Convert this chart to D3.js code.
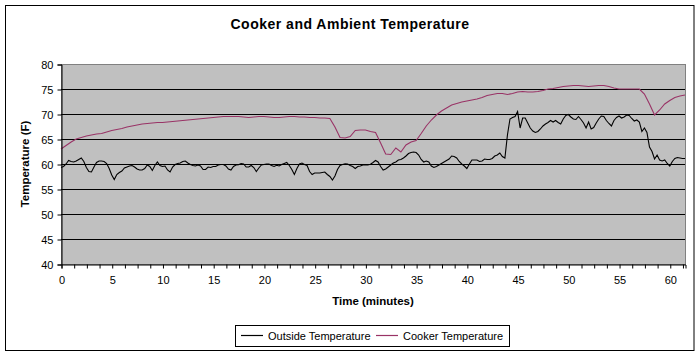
<!DOCTYPE html>
<html>
<head>
<meta charset="utf-8">
<script src="https://cdn.jsdelivr.net/npm/d3@7"></script>
<style>
  html, body { margin: 0; padding: 0; background: #fff; }
  svg { display: block; font-family: "Liberation Sans", Arial, sans-serif; }
</style>
</head>
<body>
<svg id="chart" width="700" height="356"></svg>
<script>
// ---- Data ----
const chartTitle = "Cooker and Ambient Temperature";
const xAxisTitle = "Time (minutes)";
const yAxisTitle = "Temperature (F)";
const seriesNames = ["Outside Temperature", "Cooker Temperature"];

// Outside temperature, one reading every 0.25 minutes starting at 0
const outsideStep = 0.25;
const outsideTemp = [
  59.3,59.5,60.0,60.7,60.5,60.4,60.6,60.9,61.2,60.5,
  59.3,58.5,58.4,59.4,60.3,60.6,60.6,60.5,60.1,59.1,
  57.8,56.9,57.9,58.3,58.6,59.2,59.4,59.6,59.7,59.4,
  59.0,58.8,58.8,59.1,59.8,59.5,58.7,59.7,60.4,59.7,
  59.5,59.6,58.8,58.4,59.4,59.9,60.1,60.2,60.5,60.6,
  60.2,59.9,59.7,59.6,59.8,59.6,58.9,58.9,59.4,59.3,
  59.5,59.5,59.8,59.9,59.9,59.6,59.0,58.8,59.5,59.8,
  59.85,60.1,60.0,59.4,59.4,59.7,59.3,58.5,59.2,59.8,
  59.9,60.0,60.0,59.7,59.5,59.75,59.6,59.9,60.1,60.3,
  59.7,58.9,57.9,59.1,60.0,60.2,59.9,59.7,58.5,57.9,
  58.2,58.2,58.2,58.3,58.4,57.9,57.5,56.8,57.6,58.9,
  59.7,59.9,60.05,60.0,59.7,59.5,59.1,59.5,59.6,59.8,
  59.8,59.8,59.95,60.3,60.7,60.4,59.5,58.8,59.0,59.4,
  59.8,60.2,60.4,60.8,60.9,61.2,61.6,62.1,62.3,62.4,
  62.3,61.8,60.9,60.4,60.6,60.4,59.6,59.3,59.5,59.8,
  60.1,60.4,60.7,61.0,61.6,61.5,61.2,60.5,60.0,59.6,
  59.1,60.0,60.8,60.8,60.8,60.5,60.6,61.0,60.9,60.9,
  61.1,61.6,61.8,62.2,61.5,61.2,65.8,69.0,69.3,69.5,
  70.5,67.2,69.2,69.2,68.2,67.2,66.6,66.3,66.5,67.0,
  67.6,68.0,68.3,68.7,68.4,68.7,68.3,68.0,69.0,69.7,
  69.9,69.4,69.0,68.9,69.5,68.9,68.2,67.2,68.4,67.0,
  67.3,68.2,69.0,69.6,69.5,68.7,68.1,67.6,68.7,69.3,
  69.6,69.2,69.4,69.8,69.7,69.1,68.6,68.8,68.4,66.5,
  67.2,66.3,63.4,62.5,61.0,61.8,60.8,60.6,60.8,60.1,
  59.6,60.5,61.1,61.3,61.2,61.1,61.1
];

// Cooker temperature, one reading every 0.5 minutes starting at 0
const cookerStep = 0.5;
const cookerTemp = [
  63.0,63.7,64.4,65.0,65.3,65.6,65.8,66.0,66.1,66.4,
  66.7,66.9,67.1,67.4,67.6,67.8,68.0,68.1,68.2,68.3,
  68.3,68.4,68.5,68.6,68.7,68.8,68.9,69.0,69.1,69.2,
  69.3,69.4,69.5,69.5,69.5,69.5,69.4,69.3,69.4,69.5,
  69.5,69.4,69.3,69.3,69.4,69.5,69.5,69.4,69.4,69.3,
  69.3,69.2,69.2,69.1,67.4,65.3,65.2,65.5,66.7,66.8,
  66.8,66.5,66.3,64.2,62.0,61.9,63.2,62.4,63.8,64.4,
  64.7,66.1,67.6,68.8,69.8,70.6,71.2,71.8,72.1,72.4,
  72.6,72.8,73.0,73.3,73.7,73.9,74.1,74.1,73.9,74.1,
  74.4,74.5,74.4,74.4,74.5,74.7,75.0,75.1,75.3,75.5,
  75.6,75.7,75.7,75.6,75.5,75.6,75.7,75.7,75.5,75.2,
  75.0,75.0,75.0,75.0,75.0,74.0,72.0,69.8,70.8,72.0,
  72.7,73.3,73.6,73.8
];

const xMax = 61.5;
const xMinorStep = 1.25;
const xLabelStep = 5;
const yTicks = [40, 45, 50, 55, 60, 65, 70, 75, 80];
const yGridValues = [45, 50, 55, 60, 65, 70, 75];

const outsideColor = "#000000";
const cookerColor = "#993366";

// ---- Layout ----
const svg = d3.select("#chart");
const plot = { left: 61, right: 685, top: 64, bottom: 264 };

const x = d3.scaleLinear().domain([0, xMax]).range([plot.left, plot.right]);
const y = d3.scaleLinear().domain([40, 80]).range([plot.bottom, plot.top]);

// Outer frame
svg.append("rect")
  .attr("x", 5.5).attr("y", 5.5)
  .attr("width", 688.5).attr("height", 345)
  .attr("fill", "#fff").attr("stroke", "#000").attr("stroke-width", 1);

// Title
svg.append("text")
  .attr("x", 350).attr("y", 29)
  .attr("text-anchor", "middle")
  .attr("font-size", "14px").attr("font-weight", "bold")
  .attr("letter-spacing", "0.5px")
  .text(chartTitle);

// Plot area
svg.append("rect")
  .attr("x", plot.left + 0.5).attr("y", plot.top + 0.5)
  .attr("width", plot.right - plot.left).attr("height", plot.bottom - plot.top)
  .attr("fill", "#C0C0C0").attr("stroke", "#808080").attr("stroke-width", 1);

// Gridlines
svg.append("g").selectAll("line")
  .data(yGridValues).join("line")
  .attr("x1", plot.left).attr("x2", plot.right)
  .attr("y1", d => Math.round(y(d)) + 0.5).attr("y2", d => Math.round(y(d)) + 0.5)
  .attr("stroke", "#000").attr("stroke-width", 1);

// Lines
const outsidePts = outsideTemp.map((v, i) => [i * outsideStep, v]);
const cookerPts = cookerTemp.map((v, i) => [i * cookerStep, v]);
const lineGen = d3.line().x(d => x(d[0])).y(d => y(d[1]));

svg.append("path")
  .attr("d", lineGen(cookerPts))
  .attr("fill", "none").attr("stroke", cookerColor).attr("stroke-width", 1.1);
svg.append("path")
  .attr("d", lineGen(outsidePts))
  .attr("fill", "none").attr("stroke", outsideColor).attr("stroke-width", 1.1);

// Y axis
const yAxis = d3.axisLeft(y).tickValues(yTicks).tickSize(4).tickPadding(4);
const gy = svg.append("g")
  .attr("transform", `translate(${plot.left + 0.5},0.5)`)
  .call(yAxis);
gy.select(".domain").attr("stroke", "#000");
gy.selectAll(".tick line").attr("stroke", "#000");
gy.selectAll("text").attr("font-size", "11px").attr("fill", "#000")
  .attr("font-family", "Liberation Sans, Arial, sans-serif");

// X axis
const xTickVals = d3.range(0, xMax + 0.001, xMinorStep);
const xAxis = d3.axisBottom(x).tickValues(xTickVals).tickSize(4).tickPadding(8)
  .tickFormat(d => (Math.abs(d % xLabelStep) < 1e-6 ? d3.format("d")(d) : ""));
const gx = svg.append("g")
  .attr("transform", `translate(0.5,${plot.bottom + 0.5})`)
  .call(xAxis);
gx.select(".domain").attr("stroke", "#000");
gx.selectAll(".tick line").attr("stroke", "#000");
gx.selectAll("text").attr("font-size", "11px").attr("fill", "#000")
  .attr("font-family", "Liberation Sans, Arial, sans-serif");

// Axis titles
svg.append("text")
  .attr("x", 373).attr("y", 305)
  .attr("text-anchor", "middle")
  .attr("font-size", "11.5px").attr("font-weight", "bold")
  .text(xAxisTitle);

svg.append("text")
  .attr("transform", `translate(29,164) rotate(-90)`)
  .attr("text-anchor", "middle")
  .attr("font-size", "11.5px").attr("font-weight", "bold")
  .text(yAxisTitle);

// Legend
const legend = svg.append("g");
legend.append("rect")
  .attr("x", 235.5).attr("y", 325.5)
  .attr("width", 274).attr("height", 21)
  .attr("fill", "#fff").attr("stroke", "#000").attr("stroke-width", 1);
const legendItems = [
  { name: seriesNames[0], color: outsideColor, x0: 241 },
  { name: seriesNames[1], color: cookerColor, x0: 376 }
];
legendItems.forEach(it => {
  legend.append("line")
    .attr("x1", it.x0).attr("x2", it.x0 + 22)
    .attr("y1", 335.5).attr("y2", 335.5)
    .attr("stroke", it.color).attr("stroke-width", 1.2);
  legend.append("text")
    .attr("x", it.x0 + 27).attr("y", 339.5)
    .attr("font-size", "11px").attr("fill", "#000")
    .text(it.name);
});
</script>
</body>
</html>
